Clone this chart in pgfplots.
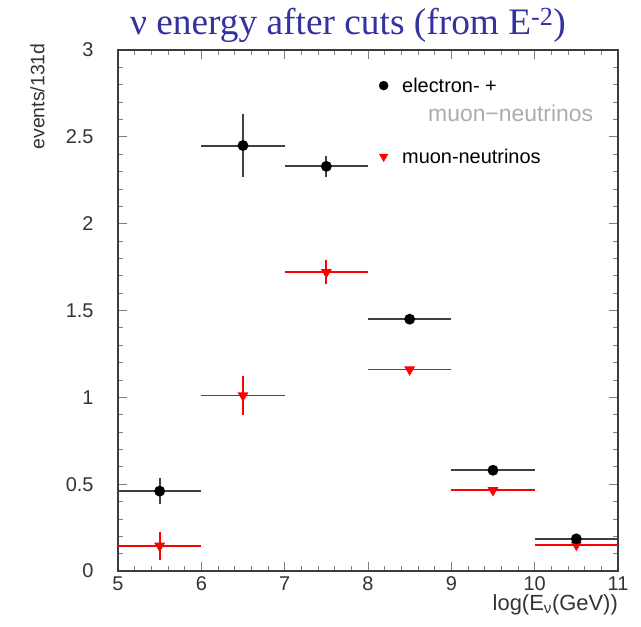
\documentclass[border=0pt]{standalone}
\usepackage{fontspec}
\setmainfont{Liberation Serif}
\setsansfont{Liberation Sans}
\usepackage{pgfplots}
\pgfplotsset{compat=1.18}
\usepackage{pgfplotstable}
\definecolor{titleblue}{RGB}{50,50,160}
\definecolor{axisgray}{RGB}{60,60,60}
\pgfplotstableread{
x y ex ey
5.5 0.46 0.5 0.075
6.5 2.45 0.5 0.18
7.5 2.33 0.5 0.06
8.5 1.45 0.5 0.015
9.5 0.58 0.5 0.01
10.5 0.185 0.5 0.01
}\alldata
\pgfplotstableread{
x y ex ey
5.5 0.145 0.5 0.08
6.5 1.01 0.5 0.11
7.5 1.72 0.5 0.07
8.5 1.16 0.5 0.015
9.5 0.465 0.5 0.01
10.5 0.15 0.5 0.01
}\mudata
\begin{document}
\begin{tikzpicture}
\useasboundingbox (-118bp,-56bp) rectangle ++(641bp,627bp);
\begin{axis}[
  at={(0,0)}, anchor=south west, scale only axis,
  width=500bp, height=521bp,
  xmin=5, xmax=11, ymin=0, ymax=3,
  xtick={5,6,...,11}, ytick={0,0.5,...,3},
  minor x tick num=4, minor y tick num=4,
  tick align=inside, xtick pos=both, ytick pos=both,
  major tick length=9bp, minor tick length=5bp,
  axis line style={axisgray, line width=1.3bp},
  every tick/.style={gray, line width=0.8bp},
  /pgf/number format/assume math mode=true,
  ticklabel style={font=\sffamily\fontsize{20}{24}\selectfont, text=black!80},
  yticklabel shift=21bp,
  yticklabel style={/pgf/number format/fixed},
  xticklabel style={yshift=-2bp},
  legend cell align=left,
  legend style={draw=none, fill=none, at={(rel axis cs:0.508,0.955)}, anchor=north west,
    font=\sffamily\fontsize{20}{24}\selectfont, row sep=7.5bp,
    /tikz/every odd column/.append style={column sep=12bp}},
  clip=false,
]
\addlegendimage{only marks, mark=*, mark size=4.5bp, black}
\addlegendimage{empty legend}
\addlegendimage{empty legend}
\addlegendimage{only marks, mark=triangle*, mark size=5bp, red, mark options={rotate=180}}
\legend{electron- +, \hspace*{26bp}{\fontsize{23}{24}\selectfont\textcolor{gray!65}{muon\textminus neutrinos}}, {\fontsize{2}{2}\selectfont\rule{0pt}{1bp}}, muon-neutrinos}
\addplot[red, line width=1.8bp, only marks, mark=triangle*, mark size=4.5bp, mark options={rotate=180, red},
  error bars/.cd, x dir=both, x explicit, y dir=both, y explicit, error mark=none,
  error bar style={red, line width=1.8bp}]
  table[x=x, y=y, x error=ex, y error=ey] {\mudata};
\addplot[black, line width=1.8bp, only marks, mark=*, mark size=4.5bp, mark options={black},
  error bars/.cd, x dir=both, x explicit, y dir=both, y explicit, error mark=none,
  error bar style={black!75, line width=2bp}]
  table[x=x, y=y, x error=ex, y error=ey] {\alldata};
\node[font=\fontsize{37.5}{41}\selectfont, text=titleblue, anchor=base] at (rel axis cs:0.46,1.029) {ν energy after cuts (from E\textsuperscript{-2})};
\node[font=\sffamily\fontsize{19.5}{22}\selectfont, text=black!80, rotate=90, anchor=south east] at ([xshift=-70bp,yshift=10bp]rel axis cs:0,1) {events/131d};
\node[font=\sffamily\fontsize{22}{24}\selectfont, text=black!80, anchor=north east, inner xsep=0pt, inner ysep=1pt] at ([yshift=-22bp]rel axis cs:1,0) {log(E\textsubscript{ν}(GeV))};
\end{axis}
\end{tikzpicture}
\end{document}
